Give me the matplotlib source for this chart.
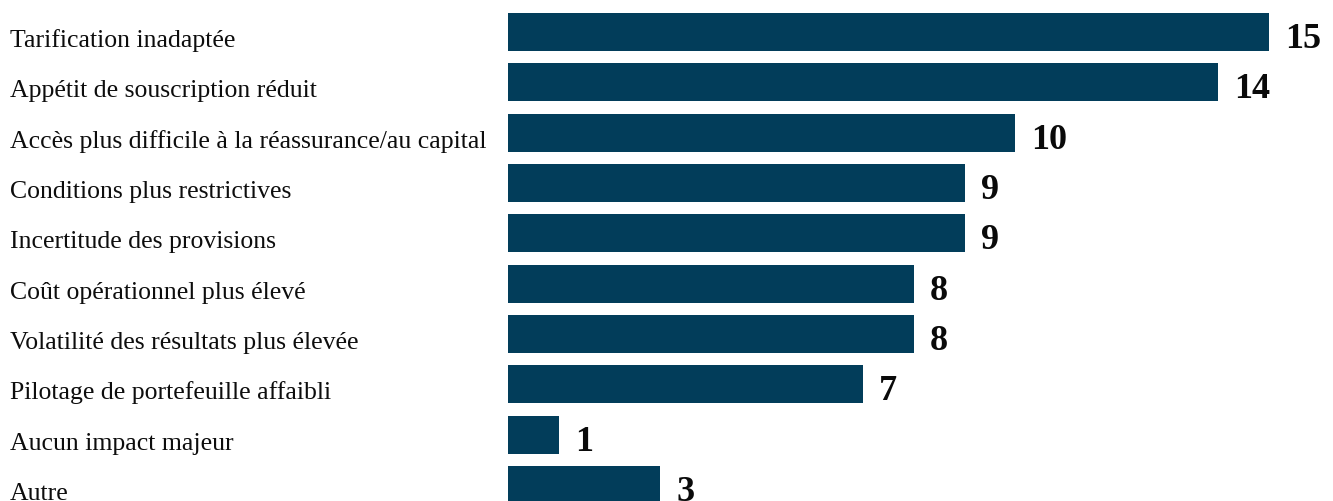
import matplotlib
matplotlib.use("Agg")
import matplotlib.pyplot as plt
from matplotlib.transforms import blended_transform_factory, offset_copy

categories = [
    "Tarification inadaptée",
    "Appétit de souscription réduit",
    "Accès plus difficile à la réassurance/au capital",
    "Conditions plus restrictives",
    "Incertitude des provisions",
    "Coût opérationnel plus élevé",
    "Volatilité des résultats plus élevée",
    "Pilotage de portefeuille affaibli",
    "Aucun impact majeur",
    "Autre",
]
values = [15, 14, 10, 9, 9, 8, 8, 7, 1, 3]

W, H = 1333, 501
fig = plt.figure(figsize=(W / 100, H / 100), dpi=100)
ax = fig.add_axes([0, 0, 1, 1])
ax.set_axis_off()

step = 50.33
ppu = 50.73
y0 = 32
x0 = 508

ypos = list(range(len(categories)))
ax.barh(ypos, values, height=38 / step, color="#023d5a", left=0)
ax.set_ylim((H - y0) / step, -y0 / step)
ax.set_xlim(-x0 / ppu, (W - x0) / ppu)

font = "Liberation Serif"
tr_lab = blended_transform_factory(fig.transFigure, ax.transData)
for i, (c, v) in enumerate(zip(categories, values)):
    t = offset_copy(tr_lab, fig=fig, x=0, y=-15, units="dots")
    ax.text(10 / W, i, c, transform=t, ha="left", va="baseline",
            fontsize=18.5, family=font, color="#0d0d0d")
    t2 = offset_copy(ax.transData, fig=fig, x=16, y=-16, units="dots")
    ax.text(v, i, str(v), transform=t2, ha="left", va="baseline",
            fontsize=26, family=font, fontweight="bold", color="#0a0a0a")

fig.savefig("out.png", dpi=100)
